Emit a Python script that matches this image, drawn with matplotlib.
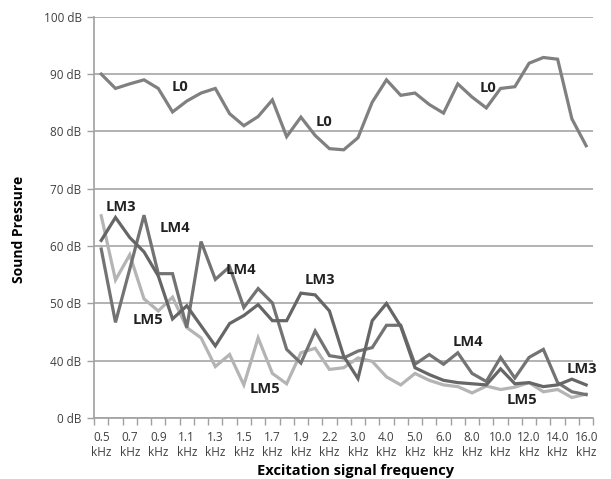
import matplotlib
matplotlib.use("Agg")
import matplotlib.pyplot as plt
import numpy as np

# excitation frequencies (kHz); only every other one gets a tick label
freqs = ["0.5", "0.6", "0.7", "0.8", "0.9", "1.0", "1.1", "1.2", "1.3", "1.4",
         "1.5", "1.6", "1.7", "1.8", "1.9", "2.0", "2.2", "2.5", "3.0", "3.5",
         "4.0", "4.5", "5.0", "5.5", "6.0", "7.0", "8.0", "9.0", "10.0", "11.0",
         "12.0", "13.0", "14.0", "15.0", "16.0"]

l0 = [90.0, 87.5, 88.3, 89.0, 87.5, 83.4, 85.3, 86.7, 87.5, 83.1,
      81.0, 82.6, 85.5, 79.1, 82.5, 79.3, 77.0, 76.8, 78.9, 85.1,
      89.0, 86.3, 86.7, 84.7, 83.2, 88.3, 86.0, 84.1, 87.5, 87.8,
      91.9, 92.9, 92.6, 82.2, 77.5]

lm3 = [61.0, 65.0, 61.5, 59.0, 54.8, 47.3, 49.6, 46.1, 42.6, 46.5,
       47.9, 49.8, 47.0, 47.0, 51.8, 51.5, 48.7, 40.8, 36.9, 47.0,
       50.0, 46.0, 38.8, 37.6, 36.6, 36.2, 36.0, 35.8, 38.6, 36.0,
       36.2, 35.5, 35.8, 36.8, 35.8]

lm4 = [59.5, 46.7, 56.0, 65.4, 55.2, 55.2, 45.8, 60.8, 54.2, 56.4,
       49.3, 52.6, 50.1, 42.0, 39.6, 45.2, 40.9, 40.5, 41.7, 42.3,
       46.2, 46.2, 39.4, 41.1, 39.4, 41.4, 37.8, 36.4, 40.6, 37.0,
       40.6, 42.0, 36.2, 34.6, 34.1]

lm5 = [65.3, 54.1, 58.5, 50.8, 48.7, 51.1, 45.8, 44.0, 39.0, 41.1,
       35.8, 44.0, 37.8, 36.0, 41.4, 42.2, 38.5, 38.8, 40.5, 39.9,
       37.2, 35.8, 37.8, 36.6, 35.8, 35.5, 34.4, 35.6, 35.0, 35.4,
       36.2, 34.6, 35.0, 33.6, 34.2]

# y gridline values and the text shown for them (bottom of the axis reads 0 dB)
ytick_vals = [30, 40, 50, 60, 70, 80, 90, 100]
ytick_text = ["0 dB", "40 dB", "50 dB", "60 dB", "70 dB", "80 dB", "90 dB", "100 dB"]

# series name labels: (text, category position, dB)
labels = [
    ("L0", 5.5, 87.7), ("L0", 15.6, 81.6), ("L0", 27.1, 87.6),
    ("LM3", 1.4, 66.8), ("LM4", 5.2, 63.1), ("LM5", 3.3, 47.1),
    ("LM4", 9.8, 55.9), ("LM3", 15.3, 54.1), ("LM5", 11.5, 35.0),
    ("LM4", 25.7, 43.2), ("LM3", 33.7, 38.6), ("LM5", 29.5, 33.2),
]

series = [
    (l0, "#808080"),
    (lm5, "#b4b4b4"),
    (lm4, "#737373"),
    (lm3, "#666666"),
]

fig = plt.figure(figsize=(6.11, 4.79), dpi=100)
ax = fig.add_axes([0.154, 0.127, 0.817, 0.838])

x = np.arange(len(freqs))
for values, color in series:
    ax.plot(x, values, color=color, lw=2.3, solid_joinstyle="miter", zorder=3)

for text, xi, yv in labels:
    ax.text(xi, yv, text, ha="center", va="center", fontsize=10.5,
            fontweight="bold", family="Open Sans", color="#222222", zorder=4)

ax.set_xlim(-0.5, len(freqs) - 0.5)
ax.set_ylim(30, 100)

ax.set_yticks(ytick_vals)
ax.set_yticklabels(ytick_text, family="Open Sans", fontsize=8.5, color="#404040")
ax.yaxis.grid(True, color="#a6a6a6", lw=1.2)
ax.set_axisbelow(True)

ax.set_xticks(x[::2])
ax.set_xticklabels([f"{f}\nkHz" for f in freqs[::2]], family="Open Sans",
                   fontsize=8.5, color="#404040", linespacing=1.25)
ax.set_xticks(np.arange(-0.5, len(freqs)), minor=True)
ax.tick_params(axis="x", which="major", length=0, pad=9)
ax.tick_params(axis="x", which="minor", length=5, color="#a0a0a0", width=1)
ax.tick_params(axis="y", length=5, color="#a0a0a0", width=1, pad=4)

for side in ("top", "right"):
    ax.spines[side].set_visible(False)
for side in ("left", "bottom"):
    ax.spines[side].set_color("#a0a0a0")
    ax.spines[side].set_linewidth(1.2)

ax.set_xlabel("Excitation signal frequency", family="Open Sans",
              fontweight="bold", fontsize=10.5)
ax.xaxis.set_label_coords(0.523, -0.115)
ax.set_ylabel("Sound Pressure", family="Open Sans", fontweight="bold",
              fontsize=10)
ax.yaxis.set_label_coords(-0.137, 0.47)

fig.savefig("out.png", dpi=100)
